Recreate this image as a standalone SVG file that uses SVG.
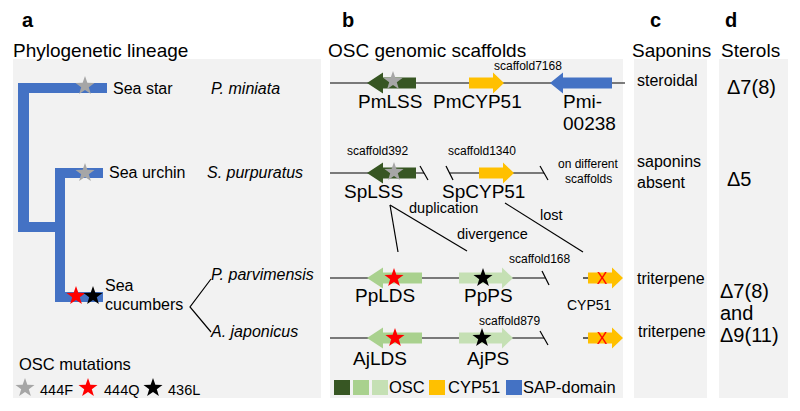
<svg xmlns="http://www.w3.org/2000/svg" xmlns:xlink="http://www.w3.org/1999/xlink" width="800" height="411" viewBox="0 0 800 411">
<style>
text{font-family:"Liberation Sans",Arial,sans-serif;fill:#000}
.lbl{font-weight:bold;font-size:20px}
.hdr{font-size:19px}
.sp{font-size:16px}
.it{font-size:16px;font-style:italic}
.gene{font-size:19px}
.sc{font-size:12px}
.sm{font-size:14.5px}
.c{font-size:16px}
.d{font-size:20px}
.bg{fill:#F2F2F2}
.tree{fill:#4472C4}
.ln{stroke:#000;stroke-width:1.2;fill:none}
.dg{fill:#375623}.mg{fill:#A9D18E}.lg{fill:#C5E0B4}.yl{fill:#FFC000}.bl{fill:#4472C4}
</style>
<defs>
<path id="star" d="M0,-10 L2.35,-3.24 L9.51,-3.09 L3.8,1.24 L5.88,8.09 L0,4 L-5.88,8.09 L-3.8,1.24 L-9.51,-3.09 L-2.35,-3.24 Z"/>
<path id="arrL" d="M0,0 L16,-10.5 L16,-5.5 L49,-5.5 L49,5.5 L16,5.5 L16,10.5 Z"/>
<path id="arrR" d="M0,0 L-11,-10.5 L-11,-5.5 L-35,-5.5 L-35,5.5 L-11,5.5 L-11,10.5 Z"/>
</defs>

<g id="backgrounds">
<rect class="bg" x="13" y="59" width="308" height="339"/>
<rect class="bg" x="330" y="59" width="293" height="339"/>
<rect class="bg" x="634" y="59" width="73" height="339"/>
<rect class="bg" x="719" y="59" width="69" height="339"/>
</g>

<g id="headers">
<text class="lbl" x="22" y="27">a</text>
<text class="lbl" x="342" y="27">b</text>
<text class="lbl" x="650" y="27">c</text>
<text class="lbl" x="725" y="27">d</text>
<text class="hdr" x="13" y="57">Phylogenetic lineage</text>
<text class="hdr" x="328" y="57">OSC genomic scaffolds</text>
<text class="hdr" x="632" y="57">Saponins</text>
<text class="hdr" x="721" y="57">Sterols</text>
</g>

<g id="tree">
<rect class="tree" x="18" y="83" width="89" height="10"/>
<rect class="tree" x="18" y="83" width="11" height="149"/>
<rect class="tree" x="18" y="222" width="47" height="10"/>
<rect class="tree" x="55" y="168" width="10" height="134"/>
<rect class="tree" x="55" y="168" width="48" height="10"/>
<rect class="tree" x="55" y="292" width="48" height="10"/>
<use xlink:href="#star" x="85" y="86" fill="#A6A6A6"/>
<use xlink:href="#star" x="85" y="173" fill="#A6A6A6"/>
<use xlink:href="#star" x="76" y="296" fill="#FF0000"/>
<use xlink:href="#star" x="93" y="296" fill="#000000"/>
</g>

<g id="species">
<g id="sea-star"><text class="sp" x="113" y="94">Sea star</text><text class="it" x="211" y="94">P. miniata</text></g>
<g id="sea-urchin"><text class="sp" x="109" y="178">Sea urchin</text><text class="it" x="207" y="178">S. purpuratus</text></g>
<g id="sea-cucumbers"><text class="sp" x="105" y="291">Sea</text><text class="sp" x="105" y="310">cucumbers</text>
<text class="it" x="211" y="280">P. parvimensis</text><text class="it" x="211" y="337">A. japonicus</text></g>
</g>

<g id="mutation-legend">
<text class="sp" x="19" y="370" style="font-size:16.5px">OSC mutations</text>
<use xlink:href="#star" x="25" y="388" fill="#A6A6A6"/>
<text x="40" y="395" style="font-size:14.5px">444F</text>
<use xlink:href="#star" x="88" y="388" fill="#FF0000"/>
<text x="104" y="395" style="font-size:14.5px">444Q</text>
<use xlink:href="#star" x="153" y="388" fill="#000000"/>
<text x="168" y="395" style="font-size:14.5px">436L</text>
</g>

<g id="connectors">
<path class="ln" d="M211,279 L190,307 L211,332"/>
<line class="ln" x1="330" y1="83" x2="625" y2="83"/>
<line class="ln" x1="330" y1="173" x2="424" y2="173"/>
<line class="ln" x1="420" y1="166" x2="428" y2="180"/>
<line class="ln" x1="446" y1="166" x2="453" y2="180"/>
<line class="ln" x1="449.5" y1="173" x2="544" y2="173"/>
<line class="ln" x1="540" y1="166" x2="548" y2="180"/>
<line class="ln" x1="390" y1="205" x2="398" y2="252"/>
<line class="ln" x1="390" y1="205" x2="467" y2="251"/>
<line class="ln" x1="505" y1="203" x2="583" y2="252"/>
<line class="ln" x1="330" y1="278" x2="545" y2="278"/>
<line class="ln" x1="542" y1="271" x2="549" y2="285"/>
<line class="ln" x1="583" y1="278" x2="590" y2="278"/>
<line class="ln" x1="330" y1="338" x2="544" y2="338"/>
<line class="ln" x1="540" y1="331" x2="548" y2="345"/>
<line class="ln" x1="583" y1="338" x2="590" y2="338"/>
</g>

<g id="row-pm">
<use xlink:href="#arrL" x="367" y="83" class="dg"/>
<use xlink:href="#star" x="393" y="81" fill="#A6A6A6"/>
<use xlink:href="#arrR" x="504" y="83" class="yl"/>
<path class="bl" d="M550,83 L563,72.5 L563,77.5 L612,77.5 L612,88.5 L563,88.5 L563,93.5 Z"/>
<text class="sc" x="494" y="70">scaffold7168</text>
<text class="gene" x="358" y="108">PmLSS</text>
<text class="gene" x="433" y="108">PmCYP51</text>
<text class="gene" x="563" y="108">Pmi-</text>
<text class="gene" x="563" y="130">00238</text>
</g>

<g id="row-sp">
<use xlink:href="#arrL" x="367" y="173" class="dg"/>
<use xlink:href="#star" x="394" y="172" fill="#A6A6A6"/>
<path class="yl" d="M514,173 L503,162.5 L503,167.5 L479,167.5 L479,178.5 L503,178.5 L503,183.5 Z"/>
<text class="sc" x="347" y="155">scaffold392</text>
<text class="sc" x="448" y="155">scaffold1340</text>
<text class="sc" x="558" y="168">on different</text>
<text class="sc" x="565" y="183">scaffolds</text>
<text class="gene" x="344" y="198">SpLSS</text>
<text class="gene" x="442" y="198">SpCYP51</text>
<text class="sm" x="409" y="213">duplication</text>
<text class="sm" x="457" y="239">divergence</text>
<text class="sm" x="540" y="220">lost</text>
</g>

<g id="row-pp">
<path class="mg" d="M367,278 L383,267.5 L383,272.5 L422,272.5 L422,283.5 L383,283.5 L383,288.5 Z"/>
<use xlink:href="#star" x="394" y="278" fill="#FF0000"/>
<path class="lg" d="M513,278 L502,267.5 L502,272.5 L459,272.5 L459,283.5 L502,283.5 L502,288.5 Z"/>
<use xlink:href="#star" x="483" y="278" fill="#000000"/>
<path class="yl" d="M623,278 L612,267.5 L612,272.5 L588,272.5 L588,283.5 L612,283.5 L612,288.5 Z"/>
<text x="602" y="284" text-anchor="middle" style="font-size:16px;fill:#FF0000">X</text>
<text class="sc" x="509" y="263">scaffold168</text>
<text class="gene" x="355" y="302">PpLDS</text>
<text class="gene" x="464" y="302">PpPS</text>
<text x="567" y="310" style="font-size:14px">CYP51</text>
</g>

<g id="row-aj">
<path class="mg" d="M367,338 L383,327.5 L383,332.5 L422,332.5 L422,343.5 L383,343.5 L383,348.5 Z"/>
<use xlink:href="#star" x="395" y="338" fill="#FF0000"/>
<path class="lg" d="M513,338 L502,327.5 L502,332.5 L459,332.5 L459,343.5 L502,343.5 L502,348.5 Z"/>
<use xlink:href="#star" x="482" y="338" fill="#000000"/>
<path class="yl" d="M623,338 L612,327.5 L612,332.5 L588,332.5 L588,343.5 L612,343.5 L612,348.5 Z"/>
<text x="602" y="344" text-anchor="middle" style="font-size:16px;fill:#FF0000">X</text>
<text class="sc" x="479" y="325">scaffold879</text>
<text class="gene" x="353" y="365">AjLDS</text>
<text class="gene" x="467" y="365">AjPS</text>
</g>

<g id="gene-legend">
<rect class="dg" x="334" y="380" width="16" height="15"/>
<rect class="mg" x="353" y="380" width="16" height="15"/>
<rect class="lg" x="372" y="380" width="16" height="15"/>
<text x="389" y="393" style="font-size:16.5px">OSC</text>
<rect class="yl" x="429" y="380" width="16" height="15"/>
<text x="448" y="393" style="font-size:16.5px">CYP51</text>
<rect class="bl" x="506" y="380" width="16" height="15"/>
<text x="523" y="393" style="font-size:16.5px">SAP-domain</text>
</g>

<g id="saponins">
<text class="c" x="637" y="86">steroidal</text>
<text class="c" x="637" y="167">saponins</text>
<text class="c" x="637" y="188">absent</text>
<text class="c" x="637" y="284">triterpene</text>
<text class="c" x="638" y="337">triterpene</text>
</g>

<g id="sterols">
<text class="d" x="727" y="94">Δ7(8)</text>
<text class="d" x="727" y="186">Δ5</text>
<text class="d" x="720" y="298">Δ7(8)</text>
<text class="d" x="720" y="320">and</text>
<text class="d" x="720" y="342">Δ9(11)</text>
</g>
</svg>
